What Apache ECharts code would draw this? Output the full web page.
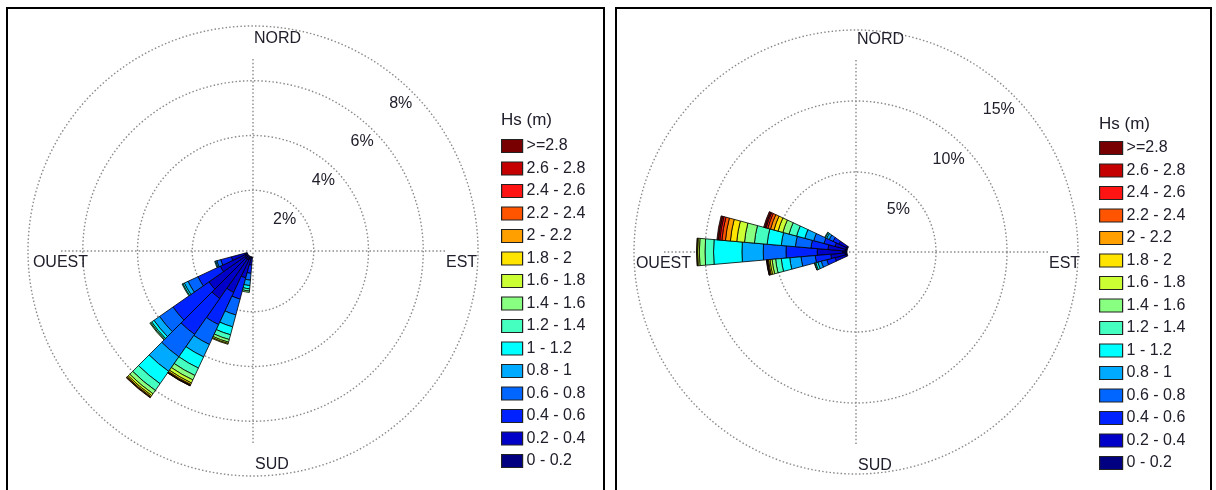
<!DOCTYPE html>
<html><head><meta charset="utf-8">
<script src="https://cdn.jsdelivr.net/npm/echarts@6/dist/echarts.min.js"></script>
<style>html,body{margin:0;padding:0;background:#fff}#c{width:1216px;height:490px}</style>
</head><body><div id="c"></div>
<script>
// ---- data ----
const hsClasses = ['0 - 0.2','0.2 - 0.4','0.4 - 0.6','0.6 - 0.8','0.8 - 1','1 - 1.2','1.2 - 1.4','1.4 - 1.6','1.6 - 1.8','1.8 - 2','2 - 2.2','2.2 - 2.4','2.4 - 2.6','2.6 - 2.8','>=2.8'];
const dirBins = [0,10,20,30,40,50,60,70,80,90,100,110,120,130,140,150,160,170,180,190,200,210,220,230,240,250,260,270,280,290,300,310,320,330,340,350];
const compassLabels = ['NORD','EST','SUD','OUEST'];
const legendTitle = 'Hs (m)';
const leftRingTicks = [2,4,6,8];
const rightRingTicks = [5,10,15];

// frequencies (%) per direction, columns follow hsClasses
const leftDirs = [190,200,210,220,230,240,250];
const leftFreq = [
  [0.05,0.25,0.30,0.25,0.20,0.12,0.08,0.05,0,0,0,0,0,0,0],
  [0.10,0.70,0.80,0.60,0.45,0.30,0.18,0.10,0.05,0.03,0,0,0,0,0],
  [0.15,1.30,1.30,0.80,0.50,0.45,0.30,0.18,0.12,0.06,0.03,0.02,0.01,0,0],
  [0.15,1.75,1.60,1.00,0.65,0.55,0.30,0.15,0.08,0.05,0.03,0.02,0,0,0],
  [0.15,1.60,1.60,0.60,0.25,0.10,0.05,0.03,0,0,0,0,0,0,0],
  [0.10,1.00,0.90,0.40,0.15,0.06,0.03,0,0,0,0,0,0,0,0],
  [0.10,0.50,0.40,0.15,0.05,0.03,0,0,0,0,0,0,0,0,0]
];
const rightDirs = [250,260,270,280,290,300];
const rightFreq = [
  [0.10,0.80,0.60,0.40,0.25,0.15,0.08,0.02,0,0,0,0,0,0,0],
  [0.15,1.00,1.10,1.00,0.80,0.60,0.40,0.25,0.15,0.10,0.06,0.04,0.03,0.02,0],
  [0.30,1.80,2.20,1.60,1.50,2.00,0.60,0.40,0.12,0.05,0.03,0,0,0,0],
  [0.15,1.20,1.20,1.10,1.00,1.00,0.90,0.70,0.55,0.45,0.35,0.25,0.15,0.10,0.10],
  [0.10,0.80,0.80,0.75,0.65,0.60,0.55,0.45,0.35,0.30,0.25,0.20,0.12,0.08,0.10],
  [0.10,0.60,0.45,0.30,0.20,0.10,0.05,0,0,0,0,0,0,0,0]
];

// ---- styles / layout ----
const hsColors = ['#000080','#0000c8','#0022ff','#0066ff','#00aaff','#00ffff','#44ffc0','#88ff80','#ccff33','#ffe400','#ffa000','#ff5500','#ff1414','#c40000','#780000'];
const FONT = '"Liberation Sans", Arial, sans-serif';
const TXT = '#20202c';
const GRID = '#8a8a8a';
const panels = [
  {cx:253, cy:251, inner:6, outer:225, max:8, step:2, cross:192, ticks:leftRingTicks, dirs:leftDirs, freq:leftFreq, lblIn:16,
   legendLeft:501, legendTop:138, titleTop:112, itemW:21},
  {cx:856, cy:252, inner:9, outer:222, max:15, step:5, cross:192, ticks:rightRingTicks, dirs:rightDirs, freq:rightFreq, lblIn:20,
   legendLeft:1099, legendTop:140, titleTop:116, itemW:23}
];

const dotted = {type:[1.5,2.2], width:1.4, color:GRID};
const polar = [], angleAxis = [], radiusAxis = [], series = [], legend = [], title = [];
panels.forEach((p, pi) => {
  const bi = pi*2, ci = pi*2+1;
  polar.push({center:[p.cx,p.cy], radius:[p.inner,p.outer]});
  polar.push({center:[p.cx,p.cy], radius:[0,p.cross]});
  angleAxis.push({polarIndex:bi, type:'category', data:dirBins.map(String), startAngle:95, clockwise:true, boundaryGap:true,
    axisLine:{show:false}, axisTick:{show:false}, axisLabel:{show:false}, splitLine:{show:false}, splitArea:{show:false}});
  radiusAxis.push({polarIndex:bi, type:'value', min:0, max:p.max, interval:p.step,
    axisLine:{show:false}, axisTick:{show:false}, axisLabel:{show:false},
    splitLine:{show:true, lineStyle:Object.assign({}, dotted, {color:['rgba(0,0,0,0)',GRID,GRID,GRID,GRID]})}});
  angleAxis.push({polarIndex:ci, type:'value', min:0, max:360, interval:90, startAngle:90, clockwise:true,
    axisLine:{show:false}, axisTick:{show:false}, axisLabel:{show:false}, splitLine:{show:true, lineStyle:dotted}});
  radiusAxis.push({polarIndex:ci, type:'value', min:0, max:1, axisLine:{show:false}, axisTick:{show:false}, axisLabel:{show:false}, splitLine:{show:false}});
  hsClasses.forEach((name, k) => {
    series.push({
      type:'bar', coordinateSystem:'polar', polarIndex:bi, stack:'p'+pi, name:name,
      barCategoryGap:'0%',
      itemStyle:{color:hsColors[k], borderColor:'#000', borderWidth:0.8},
      emphasis:{disabled:true}, animation:false,
      data: dirBins.map(d => { const i = p.dirs.indexOf(d); if (i < 0) return null; const v = p.freq[i][k]; return v > 0 ? v : null; })
    });
  });
  legend.push({orient:'vertical', left:p.legendLeft, top:p.legendTop, padding:0, data:hsClasses.slice().reverse(),
    icon:'rect', itemWidth:p.itemW, itemHeight:13, itemGap:6.5, selectedMode:false,
    itemStyle:{borderColor:'#222', borderWidth:1.2},
    textStyle:{fontSize:16, color:TXT, fontFamily:FONT, padding:[0,0,0,-1]}});
  title.push({text:legendTitle, left:p.legendLeft, top:p.titleTop, padding:0,
    textStyle:{fontSize:17, fontWeight:'normal', color:TXT, fontFamily:FONT}});
});

const chart = echarts.init(document.getElementById('c'), null, {renderer:'canvas'});
chart.setOption({animation:false, backgroundColor:'#fff', polar, angleAxis, radiusAxis, series, legend, title});

// ---- texts & frames ----
const graphic = [
  {type:'rect', shape:{x:7, y:8, width:597, height:500}, style:{fill:'none', stroke:'#000', lineWidth:2}, z:-1},
  {type:'rect', shape:{x:616, y:8, width:595, height:500}, style:{fill:'none', stroke:'#000', lineWidth:2}, z:-1}
];
panels.forEach((p, pi) => {
  const bi = pi*2;
  const t = (text, x, y, align) => ({type:'text', x, y, z:10,
    style:{text, fill:TXT, fontSize:16, fontFamily:FONT, align, verticalAlign:'middle'}});
  graphic.push(t(compassLabels[0], p.cx + 1, p.cy - 212, 'left'));
  graphic.push(t(compassLabels[1], p.cx + 193, p.cy + 12, 'left'));
  graphic.push(t(compassLabels[2], p.cx + 2, p.cy + 214, 'left'));
  graphic.push(t(compassLabels[3], p.cx - 165, p.cy + 12, 'right'));
  p.ticks.forEach(v => {
    const pt = chart.convertToPixel({polarIndex:bi}, [v, '0']);
    const rr = p.cy - pt[1] - p.lblIn;
    graphic.push(t(v + '%', p.cx + rr*Math.SQRT1_2, p.cy - rr*Math.SQRT1_2, 'center'));
  });
});
chart.setOption({graphic});
</script></body></html>
